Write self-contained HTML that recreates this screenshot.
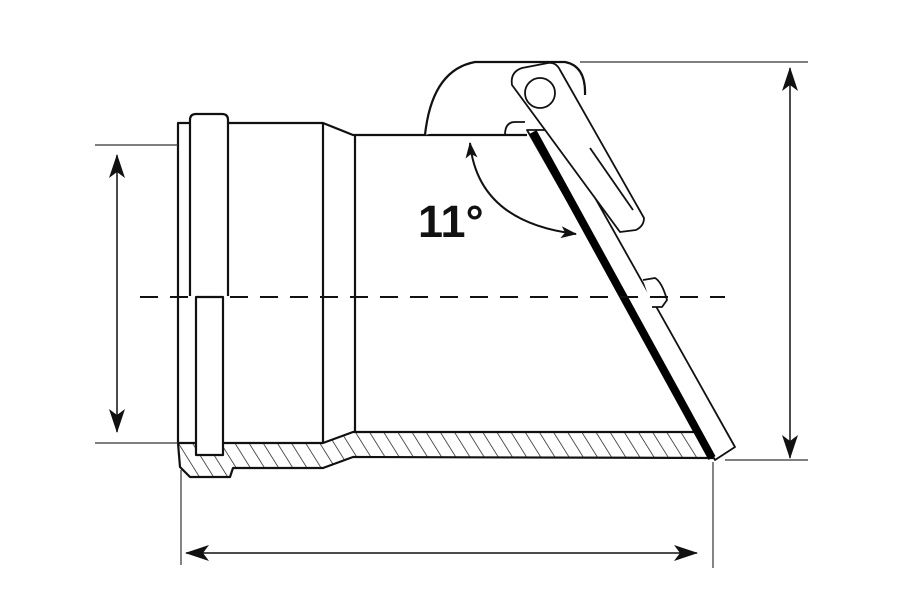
<!DOCTYPE html>
<html><head><meta charset="utf-8"><style>
html,body{margin:0;padding:0;background:#fff;}
svg{display:block;}
</style></head><body>
<svg width="902" height="601" viewBox="0 0 902 601" xmlns="http://www.w3.org/2000/svg">
<defs>
<pattern id="h" width="12" height="12" patternUnits="userSpaceOnUse" patternTransform="rotate(-32)">
<line x1="0" y1="0" x2="0" y2="12" stroke="#111" stroke-width="1.4"/>
</pattern>
<marker id="a" viewBox="0 0 24 16" refX="23" refY="8" markerWidth="24" markerHeight="16" orient="auto-start-reverse" markerUnits="userSpaceOnUse">
<path d="M0,0 L24,8 L0,16 L6,8 Z" fill="#111"/>
</marker>
<marker id="b" viewBox="0 0 16 12" refX="15" refY="6" markerWidth="16" markerHeight="12" orient="auto-start-reverse" markerUnits="userSpaceOnUse">
<path d="M0,0 L16,6 L0,12 L4,6 Z" fill="#111"/>
</marker>
</defs>
<g fill="none" stroke="#111" stroke-width="2.2" stroke-linejoin="round">
<path d="M178,443 L323,443 L353,432 L700,432 L713,458 L353,457 L323,468 L233,468 L230,477 L190,477 L180,467 Z" fill="url(#h)"/>
<path d="M178,443 L178,123 L190,123"/>
<path d="M228,123 L323,123 L353,135 L527,135"/>
<line x1="323" y1="123" x2="323" y2="443"/>
<line x1="355" y1="135" x2="355" y2="432"/>
<path d="M190,296 L190,120 Q190,114 196,114 L222,114 Q228,114 228,120 L228,296" fill="#fff"/>
<rect x="196" y="297" width="27" height="158" fill="#fff"/>
<path d="M425,135 Q432,70 475,62 L565,62 Q586,66 585,95" fill="#fff"/>
<polygon points="527,130 557,130 735,447 715,460" fill="#fff" stroke-width="1.8"/>
<path d="M505,135 Q505,122 515,122 L525,122" stroke-width="1.8"/>
<path d="M643,280 L655,278 Q662,282 667,300 L662,307 L652,307" stroke-width="1.8" fill="#fff"/>
<path d="M512,85 Q510,72 522,68 L548,63 Q556,62 560,70 L644,218 Q644,226 636,230 L620,232 Z" fill="#fff" stroke-width="1.8"/>
<circle cx="540" cy="93" r="15" fill="#fff" stroke-width="1.8"/>
<line x1="590" y1="148" x2="633" y2="210" stroke-width="1.8"/>
<line x1="533" y1="132" x2="712" y2="458" stroke="#000" stroke-width="8" stroke-linecap="butt"/>
</g>
<line x1="140" y1="297" x2="725" y2="297" stroke="#111" stroke-width="2" stroke-dasharray="18,12"/>
<g stroke="#333" stroke-width="1.2">
<line x1="95" y1="145" x2="178" y2="145"/>
<line x1="95" y1="443" x2="178" y2="443"/>
<line x1="580" y1="62" x2="808" y2="62"/>
<line x1="725" y1="460" x2="808" y2="460"/>
<line x1="181" y1="470" x2="181" y2="565"/>
<line x1="713" y1="462" x2="713" y2="568"/>
</g>
<g stroke="#111" stroke-width="1.5" fill="none">
<line x1="117" y1="155" x2="117" y2="432" marker-start="url(#a)" marker-end="url(#a)"/>
<line x1="790" y1="68" x2="790" y2="458" marker-start="url(#a)" marker-end="url(#a)"/>
<line x1="186" y1="553" x2="697" y2="553" marker-start="url(#a)" marker-end="url(#a)"/>
<path d="M470,143 Q478,222 576,234" stroke-width="2" marker-start="url(#b)" marker-end="url(#b)"/>
</g>
<text x="418" y="237" font-family="Liberation Sans, sans-serif" font-weight="bold" font-size="45" fill="#111">11°</text>
</svg>
</body></html>
